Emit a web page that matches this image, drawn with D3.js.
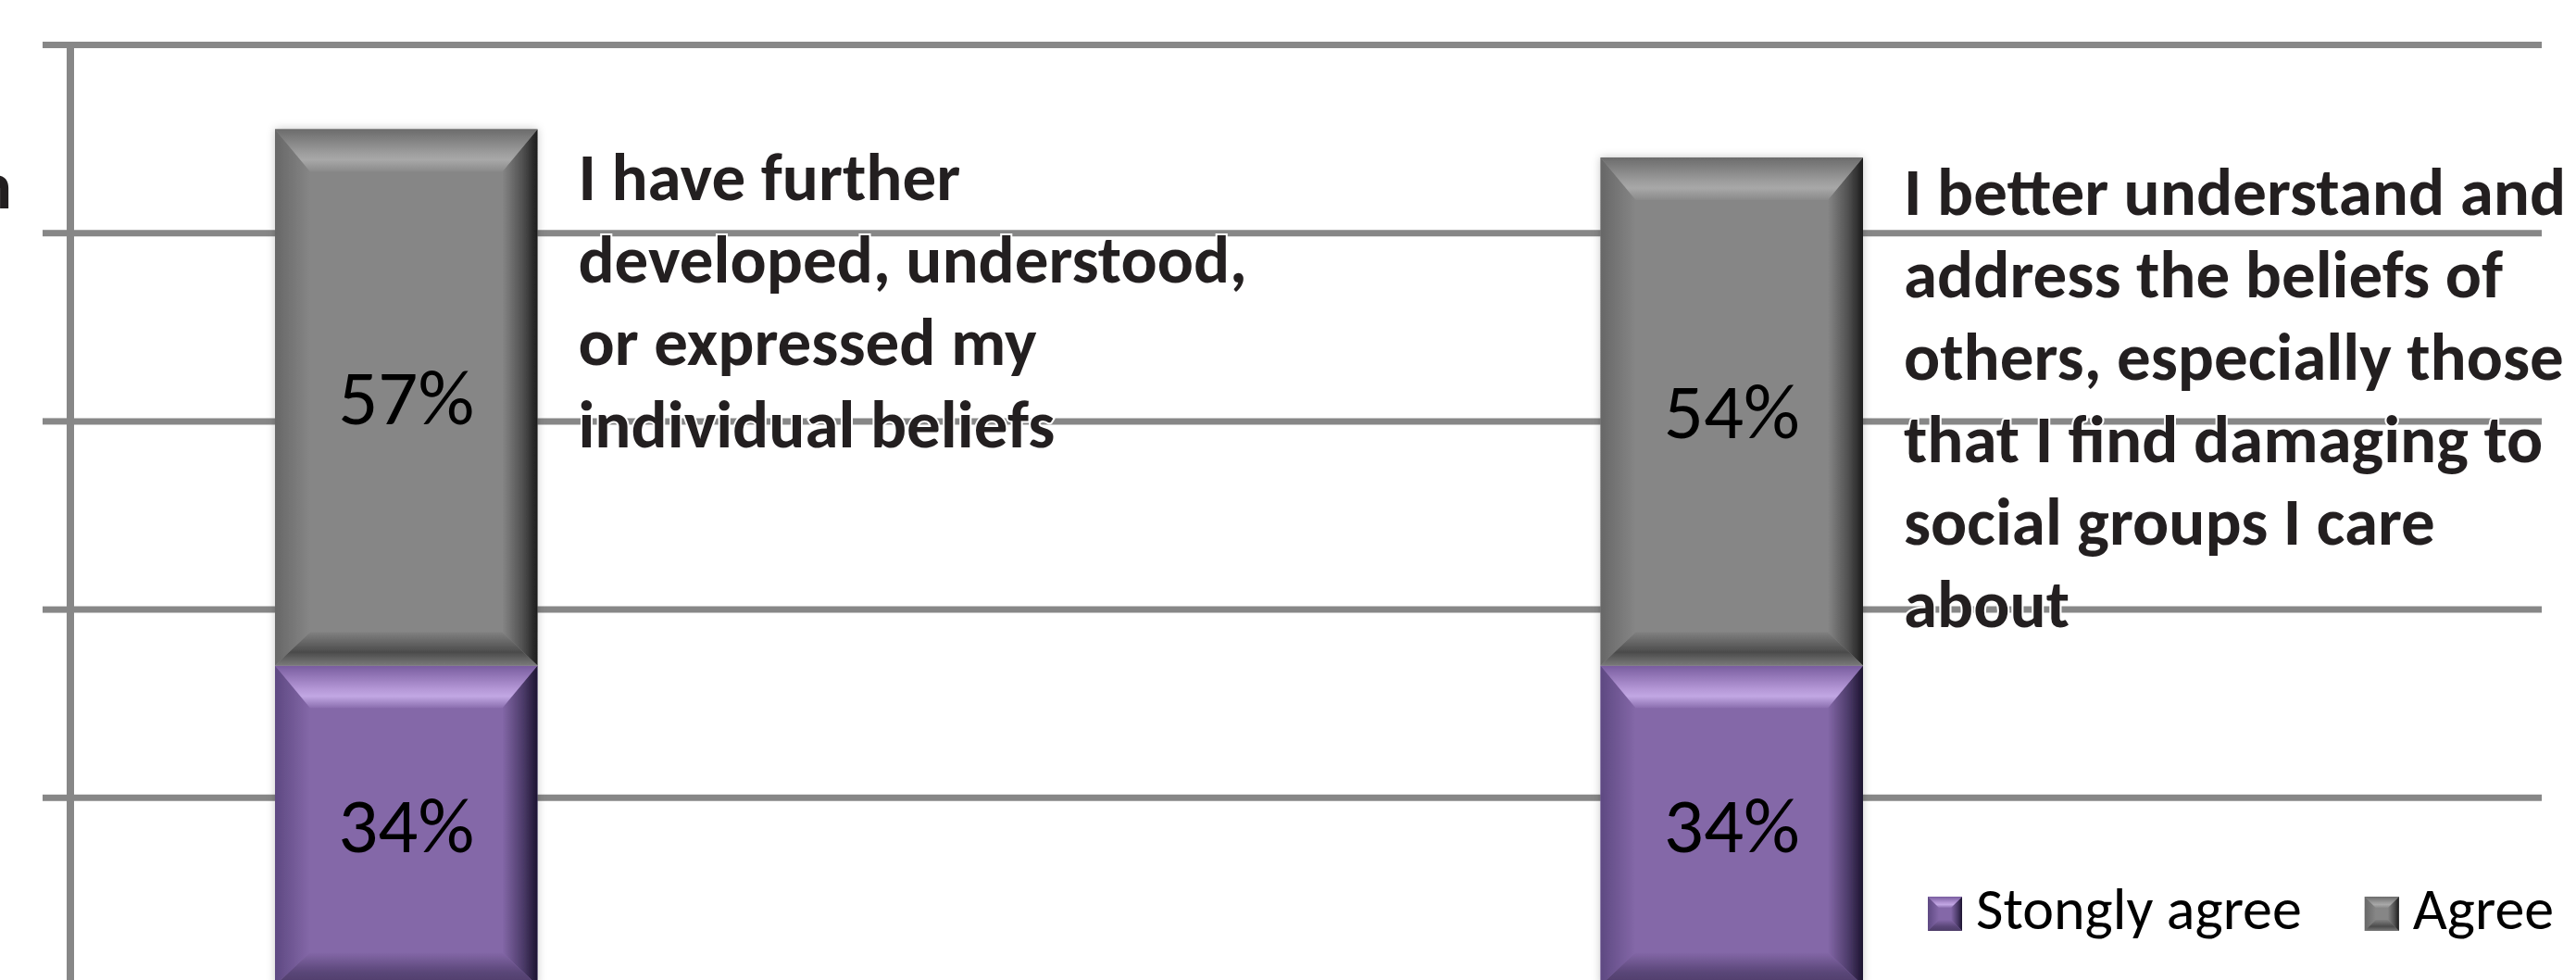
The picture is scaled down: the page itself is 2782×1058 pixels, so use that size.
<!DOCTYPE html>
<html>
<head>
<meta charset="utf-8">
<script src="https://cdn.jsdelivr.net/npm/d3@7"></script>
<style>
  html, body { margin: 0; padding: 0; background: #fff; }
  svg { display: block; }
</style>
</head>
<body>
<div id="chart"></div>
<script>
// chart data
const categories = ['beliefs-own', 'beliefs-others']
const categoryLines = [
  ['I have further', 'developed, understood,', 'or expressed my', 'individual beliefs'],
  ['I better understand and', 'address the beliefs of', 'others, especially those', 'that I find damaging to', 'social groups I care', 'about']
]
const seriesNames = ['Stongly agree', 'Agree']
const stronglyAgree = [34, 34]
const agree = [57, 54]
const yTicks = [0, 20, 40, 60, 80, 100]

const width = 2782, height = 1058
const font = 'Carlito, Calibri, Lato, sans-serif'

const palettes = {
  'Stongly agree': {
    face: '#8468a8',
    top: ['#785c9e', '#b497d6', '#c1a7e3', '#8a6eae'],
    left: ['#5e4982', '#8468a8'],
    right: ['#8468a8', '#4b3a68', '#1c1430'],
    bottom: ['#8468a8', '#5a4678', '#4d3d68']
  },
  'Agree': {
    face: '#868686',
    top: ['#6b6b6b', '#9c9c9c', '#a8a8a8', '#8a8a8a'],
    left: ['#676767', '#868686'],
    right: ['#868686', '#4e4e4e', '#1b1b1b'],
    bottom: ['#808080', '#4b4b4b', '#7a7a7a']
  }
}

const data = categories.map((c, i) => ({
  category: c,
  'Stongly agree': stronglyAgree[i],
  'Agree': agree[i]
}))
const stacked = d3.stack().keys(seriesNames)(data)

const svg = d3.select('#chart').append('svg')
  .attr('width', width)
  .attr('height', height)

svg.append('rect').attr('width', width).attr('height', height).attr('fill', '#fff')

const defs = svg.append('defs')

// soft halo round the bars
const shadow = defs.append('filter').attr('id', 'halo')
  .attr('x', '-10%').attr('y', '-10%').attr('width', '120%').attr('height', '120%')
shadow.append('feDropShadow')
  .attr('dx', 0).attr('dy', 0).attr('stdDeviation', 5)
  .attr('flood-color', '#000').attr('flood-opacity', 0.22)

// gradients for the bevel faces
function addGradient(id, stops, vertical) {
  const g = defs.append('linearGradient').attr('id', id)
    .attr('x1', 0).attr('y1', 0)
    .attr('x2', vertical ? 0 : 1).attr('y2', vertical ? 1 : 0)
  stops.forEach((s, i) => {
    g.append('stop')
      .attr('offset', stops.length == 4 ? [0, 0.55, 0.72, 1][i] : (stops.length == 3 ? [0, 0.6, 1][i] : i))
      .attr('stop-color', s)
  })
}
seriesNames.forEach((s, i) => {
  const p = palettes[s]
  addGradient('top' + i, p.top, true)
  addGradient('left' + i, p.left, false)
  addGradient('right' + i, p.right, false)
  addGradient('bottom' + i, p.bottom, true)
})

// scales
const x = d3.scaleBand()
  .domain(categories)
  .range([297, 2012])
  .paddingInner(0.802)
  .paddingOuter(0)

const y = d3.scaleLinear()
  .domain([0, 100])
  .range([1064, 48])

// gridlines + axis
svg.append('g')
  .attr('transform', 'translate(76,0)')
  .call(d3.axisLeft(y).tickValues(yTicks).tickSize(30).tickFormat(''))
  .call(g => g.select('.domain').remove())
  .call(g => g.selectAll('.tick line').clone().attr('x2', 2745 - 76))
  .call(g => g.selectAll('.tick line').attr('stroke', '#878787').attr('stroke-width', 7))

svg.append('line')
  .attr('x1', 76).attr('x2', 76)
  .attr('y1', y(100) - 3).attr('y2', y(0))
  .attr('stroke', '#878787').attr('stroke-width', 8)

// bevelled block
function bevelBlock(g, x0, y0, x1, y1, idx, sizes) {
  const [bt, bs, bb] = sizes
  const ix0 = x0 + bs, ix1 = x1 - bs, iy0 = y0 + bt, iy1 = y1 - bb
  const poly = pts => 'M' + pts.map(p => p.join(',')).join('L') + 'Z'
  g.append('rect')
    .attr('x', x0).attr('y', y0).attr('width', x1 - x0).attr('height', y1 - y0)
    .attr('fill', palettes[seriesNames[idx]].face)
  g.append('path').attr('d', poly([[x0, y0], [ix0, iy0], [ix0, iy1], [x0, y1]])).attr('fill', `url(#left${idx})`)
  g.append('path').attr('d', poly([[x1, y0], [x1, y1], [ix1, iy1], [ix1, iy0]])).attr('fill', `url(#right${idx})`)
  g.append('path').attr('d', poly([[x0, y1], [ix0, iy1], [ix1, iy1], [x1, y1]])).attr('fill', `url(#bottom${idx})`)
  g.append('path').attr('d', poly([[x0, y0], [x1, y0], [ix1, iy0], [ix0, iy0]])).attr('fill', `url(#top${idx})`)
}

const bars = svg.append('g').attr('filter', 'url(#halo)')
stacked.forEach((layer, si) => {
  layer.forEach((d, ci) => {
    const cat = d.data.category
    bevelBlock(bars, x(cat), y(d[1]), x(cat) + x.bandwidth(), y(d[0]), si, [46, 38, 36])
  })
})

// percentage labels inside the segments
const valueLabels = svg.append('g')
stacked.forEach(layer => {
  layer.forEach(d => {
    const cat = d.data.category
    valueLabels.append('text')
      .attr('x', x(cat) + x.bandwidth() / 2)
      .attr('y', (y(d[0]) + y(d[1])) / 2 + 29)
      .attr('text-anchor', 'middle')
      .attr('font-family', font)
      .attr('font-size', 85)
      .attr('fill', '#000')
      .text((d[1] - d[0]) + '%')
  })
})

// category labels beside the bars
const labelDy = [77, 62]
const catLabels = svg.append('g')
categories.forEach((cat, i) => {
  const top = y(stronglyAgree[i] + agree[i])
  const t = catLabels.append('text')
    .attr('font-family', font)
    .attr('font-weight', 700)
    .attr('font-size', 73)
    .attr('fill', '#231f20')
    .attr('stroke', '#fff')
    .attr('stroke-width', 4)
    .attr('paint-order', 'stroke')
  categoryLines[i].forEach((line, j) => {
    t.append('tspan')
      .attr('x', x(cat) + x.bandwidth() + 44)
      .attr('y', top + labelDy[i] + j * 89)
      .text(line)
  })
})

// cut-off text at the left edge
svg.append('text')
  .attr('x', 13).attr('y', 225)
  .attr('text-anchor', 'end')
  .attr('font-family', font)
  .attr('font-weight', 700)
  .attr('font-size', 73)
  .attr('fill', '#231f20')
  .text('n')

// legend
const legend = svg.append('g').attr('transform', 'translate(2082,968)')
let lx = 0
seriesNames.forEach((s, i) => {
  const item = legend.append('g').attr('transform', `translate(${lx},0)`)
  bevelBlock(item, 0, 0, 37, 37, i, [12, 12, 12])
  const txt = item.append('text')
    .attr('x', 52).attr('y', 35)
    .attr('font-family', font)
    .attr('font-size', 64)
    .attr('fill', '#000')
    .text(s)
  lx += 52 + txt.node().getComputedTextLength() + 68
})
</script>
</body>
</html>
